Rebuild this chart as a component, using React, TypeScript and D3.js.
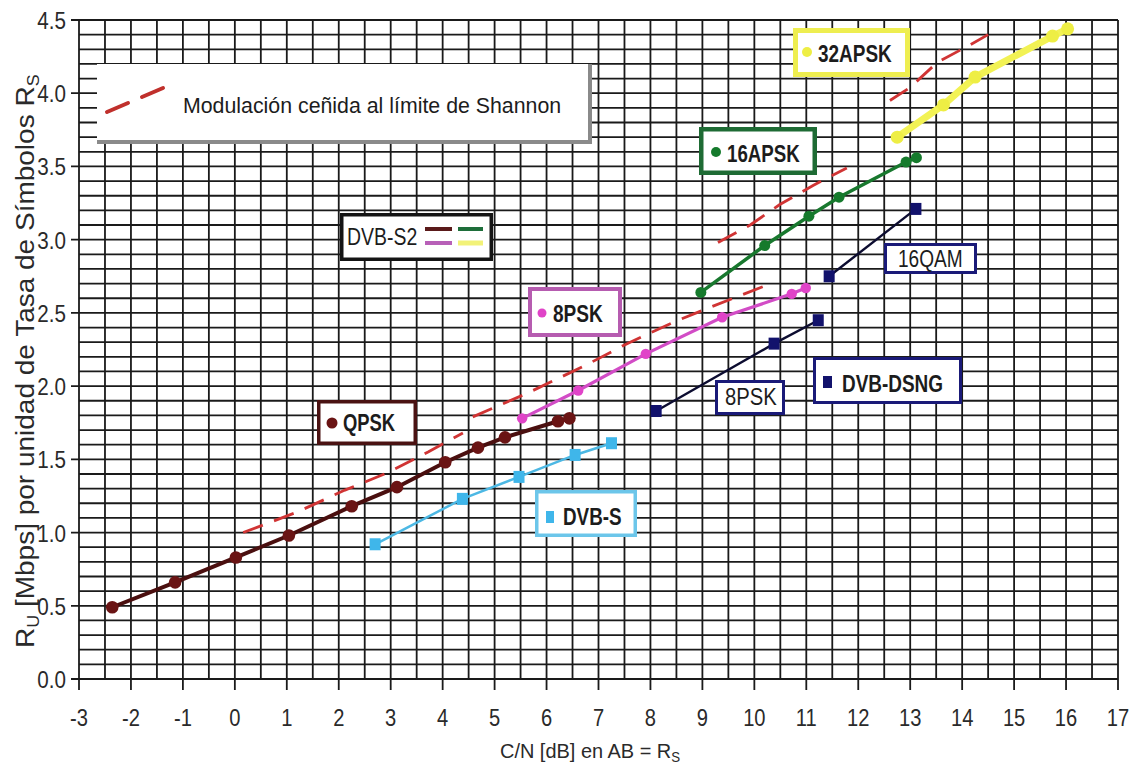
import React from 'react';
import * as d3 from 'd3';

const W = 1134;
const H = 766;

// ---------- data ----------
const xTickValues = d3.range(-3, 18, 1);
const yTickValues = [0, 0.5, 1, 1.5, 2, 2.5, 3, 3.5, 4, 4.5];
const yTickLabels = ['0.0', '0.5', '1.0', '1.5', '2.0', '2.5', '3.0', '3.5', '4.0', '4.5'];

const qpskCN = [-2.36, -1.15, 0.02, 1.04, 2.25, 3.12, 4.05, 4.68, 5.2, 6.22, 6.44];
const qpskRu = [0.49, 0.66, 0.83, 0.98, 1.18, 1.31, 1.48, 1.58, 1.65, 1.76, 1.78];
const psk8CN = [5.53, 6.61, 7.91, 9.38, 10.72, 10.99];
const psk8Ru = [1.78, 1.97, 2.22, 2.47, 2.63, 2.67];
const apsk16CN = [8.97, 10.2, 11.05, 11.63, 12.92, 13.12];
const apsk16Ru = [2.64, 2.96, 3.16, 3.29, 3.53, 3.56];
const apsk32CN = [12.75, 13.64, 14.25, 15.74, 16.03];
const apsk32Ru = [3.7, 3.92, 4.11, 4.39, 4.44];
const dvbsCN = [2.7, 4.38, 5.47, 6.55, 7.25];
const dvbsRu = [0.92, 1.23, 1.38, 1.53, 1.61];
const dsng8pskCN = [8.11, 10.38, 11.23];
const dsng8pskRu = [1.83, 2.29, 2.45];
const dsng16qamCN = [11.44, 13.11];
const dsng16qamRu = [2.75, 3.21];

const shannonACN = [0.16, 1.2, 2.12, 2.95, 3.72, 4.39];
const shannonARu = [1.0, 1.14, 1.29, 1.41, 1.55, 1.68];
const shannonBCN = [4.58, 5.62, 6.74, 7.55, 8.47, 9.09, 10.24];
const shannonBRu = [1.79, 1.95, 2.14, 2.29, 2.44, 2.53, 2.69];
const shannonCCN = [9.3, 9.92, 10.49, 11.13, 11.78];
const shannonCRu = [2.98, 3.1, 3.24, 3.37, 3.49];
const shannonDCN = [12.61, 13.0, 13.52, 14.15, 14.5];
const shannonDRu = [3.95, 4.04, 4.21, 4.33, 4.4];

const zip = (a: number[], b: number[]): [number, number][] => a.map((v, i) => [v, b[i]]);

const FONT = '"Liberation Sans", Arial, Helvetica, sans-serif';

function T(props: any) {
  const { x, y, sx = 0.82, size = 23, weight = 'normal', anchor = 'start', fill = '#1c1c1c', rotate = 0, children } = props;
  const tr = `translate(${x},${y})` + (rotate ? ` rotate(${rotate})` : '') + ` scale(${sx},1)`;
  return (
    <text transform={tr} fontSize={size} fontWeight={weight} textAnchor={anchor} fill={fill} fontFamily={FONT}>
      {children}
    </text>
  );
}

function Box({ x0, y0, x1, y1, sw, stroke }: any) {
  return (
    <rect x={x0 + sw / 2} y={y0 + sw / 2} width={x1 - x0 - sw} height={y1 - y0 - sw} fill="#fff" stroke={stroke} strokeWidth={sw} />
  );
}

export default function App() {
  const x = d3.scaleLinear().domain([-3, 17]).range([79, 1118]);
  const y = d3.scaleLinear().domain([0, 4.5]).range([679, 20]);
  const line = d3.line<[number, number]>().x(d => x(d[0])).y(d => y(d[1]));

  const vGrid = d3.range(-3, 17.01, 0.5);
  const hGrid = d3.range(0, 4.501, 0.1);
  const gridColor = '#1a1a1a';

  const shannon = [zip(shannonACN, shannonARu), zip(shannonBCN, shannonBRu), zip(shannonCCN, shannonCRu), zip(shannonDCN, shannonDRu)];

  const qpsk = zip(qpskCN, qpskRu);
  const psk8 = zip(psk8CN, psk8Ru);
  const apsk16 = zip(apsk16CN, apsk16Ru);
  const apsk32 = zip(apsk32CN, apsk32Ru);
  const dvbs = zip(dvbsCN, dvbsRu);
  const dsng8 = zip(dsng8pskCN, dsng8pskRu);
  const dsng16 = zip(dsng16qamCN, dsng16qamRu);

  return (
    <svg width={W} height={H} style={{ position: 'absolute', left: 0, top: 0, background: '#fff' }}>
      <rect x={0} y={0} width={W} height={H} fill="#fff" />
      {/* grid */}
      <g>
        {vGrid.map((v, i) => {
          const isInt = Math.abs(v - Math.round(v)) < 1e-6;
          return <line key={'v' + i} x1={x(v)} x2={x(v)} y1={y(4.5)} y2={isInt ? 690 : y(0)} stroke={gridColor} strokeWidth={1.8} />;
        })}
        {hGrid.map((v, i) => {
          const isMajor = Math.abs(v * 2 - Math.round(v * 2)) < 1e-6;
          return <line key={'h' + i} x1={isMajor ? 71 : x(-3)} x2={x(17)} y1={y(v)} y2={y(v)} stroke={gridColor} strokeWidth={1.8} />;
        })}
      </g>
      {/* tick labels */}
      {yTickValues.map((v, i) => (
        <T key={'yl' + i} x={66} y={y(v) + 9} size={24} sx={0.86} anchor="end" fill="#2a2a2a">{yTickLabels[i]}</T>
      ))}
      {xTickValues.map((v, i) => (
        <T key={'xl' + i} x={x(v)} y={726} size={24} sx={0.84} anchor="middle" fill="#2a2a2a">{String(v)}</T>
      ))}
      {/* axis titles */}
      <T x={500} y={758} size={21} sx={0.95} fill="#2a2a2a">
        C/N [dB] en AB = R<tspan fontSize={14} dy={4}>S</tspan>
      </T>
      <T x={34} y={648} size={25} sx={1.12} rotate={-90} fill="#2a2a2a">
        R<tspan fontSize={16} dy={5}>U</tspan><tspan dy={-5}> [Mbps] por unidad de Tasa de Símbolos R</tspan><tspan fontSize={16} dy={5}>S</tspan>
      </T>

      {/* Shannon legend */}
      <rect x={97} y={64} width={495} height={80} fill="#8a8a8a" />
      <rect x={97} y={64} width={491} height={76} fill="#fff" />
      <line x1={107} y1={112} x2={128} y2={103} stroke="#c0302c" strokeWidth={4} strokeLinecap="round" />
      <line x1={142} y1={97} x2={163} y2={88} stroke="#c0302c" strokeWidth={4} strokeLinecap="round" />
      <T x={183} y={113} size={22} sx={0.97} fill="#1c1c1c">Modulación ceñida al límite de Shannon</T>

      {/* Shannon dashed lines */}
      {shannon.map((s, i) => (
        <path key={'sh' + i} d={line(s) || ''} fill="none" stroke="#d03434" strokeWidth={2.8} strokeDasharray="21 12" />
      ))}

      {/* DVB-S (cyan squares) */}
      <path d={line(dvbs) || ''} fill="none" stroke="#4cb8e4" strokeWidth={2.5} />
      {dvbs.map((d, i) => <rect key={'ds' + i} x={x(d[0]) - 5.5} y={y(d[1]) - 6} width={11} height={12} fill="#3fb6ea" />)}

      {/* DVB-DSNG */}
      <path d={line(dsng8) || ''} fill="none" stroke="#0c0c30" strokeWidth={2.4} />
      <path d={line(dsng16) || ''} fill="none" stroke="#0c0c30" strokeWidth={2.4} />
      {[...dsng8, ...dsng16].map((d, i) => <rect key={'dn' + i} x={x(d[0]) - 5.5} y={y(d[1]) - 6} width={11} height={12} fill="#12126c" />)}

      {/* 32APSK */}
      <path d={line(apsk32) || ''} fill="none" stroke="#f2f254" strokeWidth={7} strokeLinecap="round" strokeLinejoin="round" />
      {apsk32.map((d, i) => <circle key={'a32' + i} cx={x(d[0])} cy={y(d[1])} r={6.5} fill="#eeee44" />)}

      {/* 16APSK */}
      <path d={line(apsk16) || ''} fill="none" stroke="#18782e" strokeWidth={3.5} />
      {apsk16.map((d, i) => <circle key={'a16' + i} cx={x(d[0])} cy={y(d[1])} r={5.5} fill="#157a2c" />)}

      {/* 8PSK */}
      <path d={line(psk8) || ''} fill="none" stroke="#d24cc6" strokeWidth={3.2} />
      {psk8.map((d, i) => <circle key={'p8' + i} cx={x(d[0])} cy={y(d[1])} r={5.2} fill="#e044c8" />)}

      {/* QPSK */}
      <path d={line(qpsk) || ''} fill="none" stroke="#4a0f0f" strokeWidth={4} />
      {qpsk.map((d, i) => <circle key={'q' + i} cx={x(d[0])} cy={y(d[1])} r={6.3} fill="#6a1414" />)}

      {/* series labels */}
      <Box x0={340} y0={213} x1={493} y1={261} sw={3.5} stroke="#141414" />
      <T x={347} y={245} size={24} sx={0.81}>DVB-S2</T>
      <line x1={425} x2={452} y1={229} y2={229} stroke="#5a1a1a" strokeWidth={4} />
      <line x1={458} x2={483} y1={229} y2={229} stroke="#1e6e3a" strokeWidth={4} />
      <line x1={425} x2={452} y1={243} y2={243} stroke="#b860b8" strokeWidth={4} />
      <line x1={458} x2={483} y1={243} y2={243} stroke="#f2f278" strokeWidth={5} />

      <Box x0={317} y0={400} x1={417} y1={445} sw={3.5} stroke="#4a1212" />
      <circle cx={332} cy={423} r={5.5} fill="#6a1414" />
      <T x={343} y={431} size={23} sx={0.8} weight="bold">QPSK</T>

      <Box x0={528} y0={287} x1={622} y1={337} sw={4} stroke="#b65cb0" />
      <circle cx={542} cy={313} r={4.5} fill="#e044c8" />
      <T x={553} y={322} size={23} sx={0.83} weight="bold">8PSK</T>

      <Box x0={535} y0={490} x1={637} y1={537} sw={3.5} stroke="#6cc6ea" />
      <rect x={546} y={511} width={8} height={12} fill="#3fb6ea" />
      <T x={563} y={525} size={23} sx={0.82} weight="bold">DVB-S</T>

      <Box x0={699} y0={127} x1={817} y1={175} sw={4.5} stroke="#1e6b34" />
      <circle cx={716} cy={152} r={5} fill="#157a2c" />
      <T x={727} y={162} size={24} sx={0.78} weight="bold">16APSK</T>

      <Box x0={793} y0={28} x1={910} y1={77} sw={5} stroke="#eeee50" />
      <circle cx={807} cy={52} r={5} fill="#eeee44" />
      <T x={818} y={62} size={24} sx={0.79} weight="bold">32APSK</T>

      <Box x0={884} y0={243} x1={977} y1={274} sw={3} stroke="#1a1a78" />
      <T x={898} y={267} size={23} sx={0.83}>16QAM</T>

      <Box x0={715} y0={380} x1={785} y1={415} sw={3} stroke="#1a1a78" />
      <T x={725} y={405} size={23} sx={0.88}>8PSK</T>

      <Box x0={813} y0={357} x1={962} y1={404} sw={3} stroke="#1a1a78" />
      <rect x={823} y={376} width={9} height={12} fill="#12126c" />
      <T x={842} y={392} size={24} sx={0.79} weight="bold">DVB-DSNG</T>
    </svg>
  );
}
